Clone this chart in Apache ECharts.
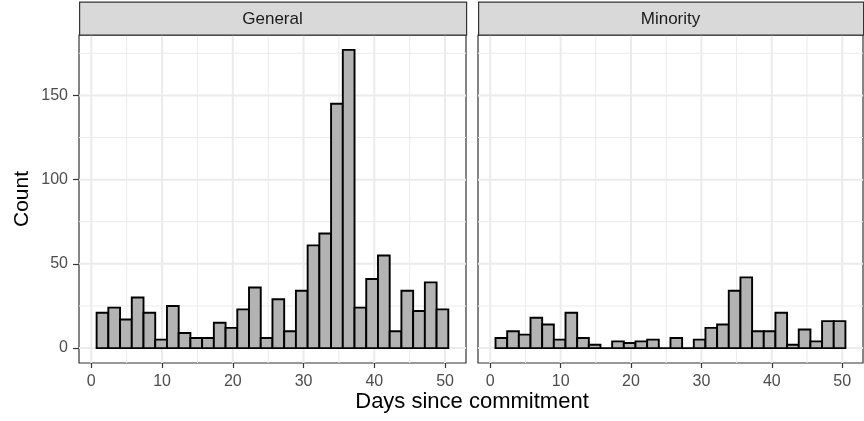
<!DOCTYPE html>
<html>
<head>
<meta charset="utf-8">
<script src="https://cdn.jsdelivr.net/npm/echarts@6/dist/echarts.min.js"></script>
<style>
html,body{margin:0;padding:0;background:#fff;}
#chart{width:864px;height:421px;}
</style>
</head>
<body>
<div id="chart"></div>
<script>
// ---- data ----
const panels = ['General', 'Minority'];
const generalCounts = [21,24,17,30,21,5,25,9,6,6,15,12,23,36,6,29,10,34,61,68,145,177,24,41,55,10,34,22,39,23];
const minorityCounts = [6,10,8,18,14,5,21,6,2,0,4,3,4,5,0,6,0,5,12,14,34,42,10,10,21,2,11,4,16,16];
const xTicks = [0,10,20,30,40,50];
const xMinor = [5,15,25,35,45];
const yTicks = [0,50,100,150];
const yMinor = [25,75,125,175];
const binStart = 0.75;
const binWidth = 1.657;

// ---- build ----
function binData(counts){
  return counts.map((c,i)=>[binStart + i*binWidth, binStart + (i+1)*binWidth, c]);
}
function gridData(){
  const d = [];
  xMinor.forEach(v=>d.push([0,v,0]));
  yMinor.forEach(v=>d.push([1,v,0]));
  xTicks.forEach(v=>d.push([0,v,1]));
  yTicks.forEach(v=>d.push([1,v,1]));
  return d;
}
const font = '"Liberation Sans", Arial, Helvetica, sans-serif';
const grids = [
  {left:79, top:35, width:387, height:328, show:true, borderColor:'#333333', borderWidth:1.2, backgroundColor:'#fff'},
  {left:478, top:35, width:385, height:328, show:true, borderColor:'#333333', borderWidth:1.2, backgroundColor:'#fff'}
];
const xAxes = grids.map((g,i)=>({
  type:'value', gridIndex:i, min:-1.74, max:52.96,
  axisLine:{show:false, onZero:false},
  axisTick:{show:true, length:5, lineStyle:{color:'#333333', width:1.2}, customValues:xTicks},
  axisLabel:{show:true, customValues:xTicks, color:'#4D4D4D', fontSize:16, fontFamily:font, margin:11},
  splitLine:{show:false}
}));
const yAxes = grids.map((g,i)=>({
  type:'value', gridIndex:i, min:-8.85, max:185.85,
  axisLine:{show:false, onZero:false},
  axisTick:{show:i===0, length:6, lineStyle:{color:'#333333', width:1.2}, customValues:yTicks},
  axisLabel:{show:i===0, customValues:yTicks, color:'#4D4D4D', fontSize:16, fontFamily:font, margin:11},
  splitLine:{show:false}
}));
function gridRender(params, api){
  const cs = params.coordSys;
  const dir = api.value(0), v = api.value(1), major = api.value(2);
  let shape;
  if(dir === 0){
    const x = api.coord([v, 0])[0];
    shape = {x1:x, y1:cs.y, x2:x, y2:cs.y+cs.height};
  } else {
    const y = api.coord([0, v])[1];
    shape = {x1:cs.x, y1:y, x2:cs.x+cs.width, y2:y};
  }
  return {type:'line', shape:shape, style:{stroke:'#EBEBEB', lineWidth: major ? 2 : 1}};
}
function barRender(params, api){
  const p0 = api.coord([api.value(0), api.value(2)]);
  const p1 = api.coord([api.value(1), 0]);
  return {type:'rect', shape:{x:p0[0], y:p0[1], width:p1[0]-p0[0], height:p1[1]-p0[1]},
    style:{fill:'#B3B3B3', stroke:'#000000', lineWidth:1.9}};
}
const allCounts = [generalCounts, minorityCounts];
const series = [];
grids.forEach((g,i)=>{
  series.push({type:'custom', xAxisIndex:i, yAxisIndex:i, z:1, silent:true, renderItem:gridRender, data:gridData(), encode:{x:1,y:1}});
  series.push({type:'custom', xAxisIndex:i, yAxisIndex:i, z:2, silent:true, renderItem:barRender, data:binData(allCounts[i]), encode:{x:[0,1], y:2}});
});
const graphic = [];
grids.forEach((g,i)=>{
  graphic.push({type:'rect', left:g.left, top:1.5, shape:{width:g.width, height:33}, style:{fill:'#D9D9D9', stroke:'#333333', lineWidth:1.2}, z:10});
  graphic.push({type:'text', x:g.left + g.width/2, y:19, style:{text:panels[i], fill:'#1A1A1A', font:'17px ' + font, textAlign:'center', textVerticalAlign:'middle'}, z:11});
});
graphic.push({type:'text', x:472, y:402, style:{text:'Days since commitment', fill:'#000', font:'22px ' + font, textAlign:'center', textVerticalAlign:'middle'}, z:11});
graphic.push({type:'text', x:22, y:199, rotation:Math.PI/2, style:{text:'Count', fill:'#000', font:'21px ' + font, textAlign:'center', textVerticalAlign:'middle'}, z:11});

const chart = echarts.init(document.getElementById('chart'), null, {renderer:'canvas'});
chart.setOption({
  animation:false,
  backgroundColor:'#ffffff',
  grid:grids, xAxis:xAxes, yAxis:yAxes, series:series, graphic:graphic
});
</script>
</body>
</html>
